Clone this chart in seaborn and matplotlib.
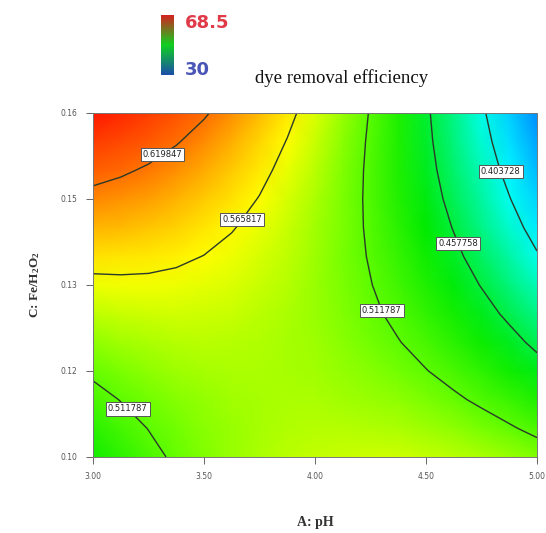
import numpy as np
import matplotlib
matplotlib.use("Agg")
import matplotlib.pyplot as plt
import seaborn as sns
from matplotlib.colors import LinearSegmentedColormap, Normalize
from matplotlib.cm import ScalarMappable

# factor grid
ph = [3.000, 3.125, 3.250, 3.375, 3.500, 3.625, 3.750, 3.875, 4.000,
      4.125, 4.250, 4.375, 4.500, 4.625, 4.750, 4.875, 5.000]
fe_h2o2 = [0.100, 0.105, 0.110, 0.115, 0.120, 0.125, 0.130,
           0.135, 0.140, 0.145, 0.150, 0.155, 0.160]

# dye removal efficiency (fraction),
# rows follow fe_h2o2 (bottom to top), columns follow ph
efficiency = [
    [0.4812, 0.4940, 0.5054, 0.5155, 0.5243, 0.5317, 0.5378, 0.5426, 0.5460,
     0.5481, 0.5488, 0.5482, 0.5463, 0.5430, 0.5384, 0.5325, 0.5252],
    [0.4919, 0.5028, 0.5123, 0.5205, 0.5274, 0.5329, 0.5371, 0.5399, 0.5415,
     0.5416, 0.5405, 0.5380, 0.5341, 0.5290, 0.5224, 0.5146, 0.5054],
    [0.5035, 0.5125, 0.5201, 0.5264, 0.5314, 0.5350, 0.5373, 0.5382, 0.5378,
     0.5361, 0.5330, 0.5286, 0.5229, 0.5158, 0.5074, 0.4976, 0.4865],
    [0.5161, 0.5232, 0.5289, 0.5333, 0.5363, 0.5380, 0.5384, 0.5375, 0.5352,
     0.5315, 0.5265, 0.5202, 0.5126, 0.5036, 0.4933, 0.4816, 0.4686],
    [0.5296, 0.5348, 0.5386, 0.5411, 0.5422, 0.5420, 0.5405, 0.5376, 0.5334,
     0.5279, 0.5210, 0.5128, 0.5032, 0.4923, 0.4801, 0.4665, 0.4516],
    [0.5440, 0.5473, 0.5492, 0.5498, 0.5490, 0.5469, 0.5435, 0.5387, 0.5326,
     0.5251, 0.5163, 0.5062, 0.4948, 0.4820, 0.4678, 0.4523, 0.4355],
    [0.5594, 0.5607, 0.5608, 0.5594, 0.5568, 0.5527, 0.5474, 0.5407, 0.5327,
     0.5233, 0.5126, 0.5006, 0.4873, 0.4725, 0.4565, 0.4391, 0.4204],
    [0.5757, 0.5751, 0.5732, 0.5700, 0.5654, 0.5595, 0.5523, 0.5437, 0.5338,
     0.5225, 0.5099, 0.4960, 0.4807, 0.4641, 0.4461, 0.4268, 0.4062],
    [0.5929, 0.5905, 0.5867, 0.5815, 0.5750, 0.5672, 0.5581, 0.5476, 0.5357,
     0.5226, 0.5081, 0.4922, 0.4750, 0.4565, 0.4367, 0.4155, 0.3929],
    [0.6111, 0.6067, 0.6010, 0.5940, 0.5856, 0.5759, 0.5648, 0.5524, 0.5387,
     0.5236, 0.5072, 0.4894, 0.4703, 0.4499, 0.4281, 0.4050, 0.3806],
    [0.6302, 0.6239, 0.6163, 0.6073, 0.5971, 0.5854, 0.5725, 0.5581, 0.5425,
     0.5255, 0.5072, 0.4875, 0.4666, 0.4442, 0.4205, 0.3955, 0.3692],
    [0.6502, 0.6420, 0.6325, 0.6217, 0.6095, 0.5959, 0.5810, 0.5648, 0.5473,
     0.5284, 0.5082, 0.4866, 0.4637, 0.4395, 0.4139, 0.3870, 0.3587],
    [0.6712, 0.6611, 0.6497, 0.6369, 0.6228, 0.6074, 0.5906, 0.5725, 0.5530,
     0.5322, 0.5101, 0.4866, 0.4618, 0.4357, 0.4082, 0.3794, 0.3492],
]

contour_levels = [0.403728, 0.457758, 0.511787, 0.565817, 0.619847]
legend_range = [30, 68.5]

x_ticks = [3.00, 3.50, 4.00, 4.50, 5.00]
x_ticklabels = ["3.00", "3.50", "4.00", "4.50", "5.00"]
y_ticks = [0.10, 0.115, 0.13, 0.145, 0.16]
y_ticklabels = ["0.10", "0.12", "0.13", "0.15", "0.16"]

sns.set_theme(style="white")
plt.rcParams["mathtext.default"] = "regular"

vmin, vmax = 0.30, 0.685
nodes = [(0.30, "#0040ff"), (0.35, "#0090ff"), (0.40, "#00ffff"),
         (0.475, "#00ea00"), (0.52, "#70ff00"), (0.565, "#ffff00"),
         (0.62, "#ff7000"), (0.685, "#ff0000")]
cmap = LinearSegmentedColormap.from_list(
    "de", [((v - vmin) / (vmax - vmin), c) for v, c in nodes])
legend_cmap = LinearSegmentedColormap.from_list(
    "leg", ["#1a4fa8", "#10d020", "#d42020"])

X, Y = np.meshgrid(ph, fe_h2o2)
Z = np.array(efficiency)

fig = plt.figure(figsize=(5.46, 5.33), dpi=100)
ax = fig.add_axes([0.1703, 0.1426, 0.8132, 0.6454])

ax.pcolormesh(X, Y, Z, cmap=cmap, vmin=vmin, vmax=vmax, shading="gouraud")
cs = ax.contour(X, Y, Z, levels=contour_levels, colors="#2a3a2a", linewidths=1.0)
label_spots = [(4.83, 0.1497), (4.65, 0.1373), (4.28, 0.1253),
               (3.16, 0.1085), (3.65, 0.1420), (3.30, 0.1535)]
labels = ax.clabel(cs, fmt="%.6f", inline=False, fontsize=6,
                   manual=label_spots, colors="#222222")
for t in labels:
    t.set_rotation(0)
    t.set_bbox(dict(facecolor="white", edgecolor="#555555", linewidth=0.7,
                    boxstyle="square,pad=0.25"))

ax.set_xlim(3.0, 5.0)
ax.set_ylim(0.10, 0.16)
ax.set_xticks(x_ticks)
ax.set_xticklabels(x_ticklabels)
ax.set_yticks(y_ticks)
ax.set_yticklabels(y_ticklabels)
ax.tick_params(axis="both", which="both", direction="out", length=5, width=0.7,
               color="#666666", labelsize=5.5, labelcolor="#555555",
               bottom=True, left=True, pad=6)
for s in ax.spines.values():
    s.set_color("#777777")
    s.set_linewidth(0.7)

ax.set_xlabel("A: pH", family="Liberation Serif", fontsize=10,
              fontweight="bold", color="#333333", va="center")
ax.xaxis.set_label_coords(0.5, -0.189)
ax.set_ylabel("C: Fe/H$_2$O$_2$", family="Liberation Serif", fontsize=9.5,
              fontweight="bold", color="#333333", va="center")
ax.yaxis.set_label_coords(-0.131, 0.5)

fig.text(0.625, 0.853, "dye removal efficiency", family="Liberation Serif",
         fontsize=13.5, ha="center", va="center", color="#111111")

# colour legend at the top
cax = fig.add_axes([0.295, 0.86, 0.024, 0.112])
sm = ScalarMappable(norm=Normalize(*legend_range), cmap=legend_cmap)
cb = fig.colorbar(sm, cax=cax)
cb.set_ticks([])
cb.outline.set_visible(False)
fig.text(0.338, 0.957, f"{legend_range[1]}", color="#e03a48", fontsize=13,
         fontweight="bold", va="center")
fig.text(0.338, 0.869, f"{legend_range[0]:g}", color="#4a55b8", fontsize=13,
         fontweight="bold", va="center")

fig.savefig("out.png", dpi=100)
